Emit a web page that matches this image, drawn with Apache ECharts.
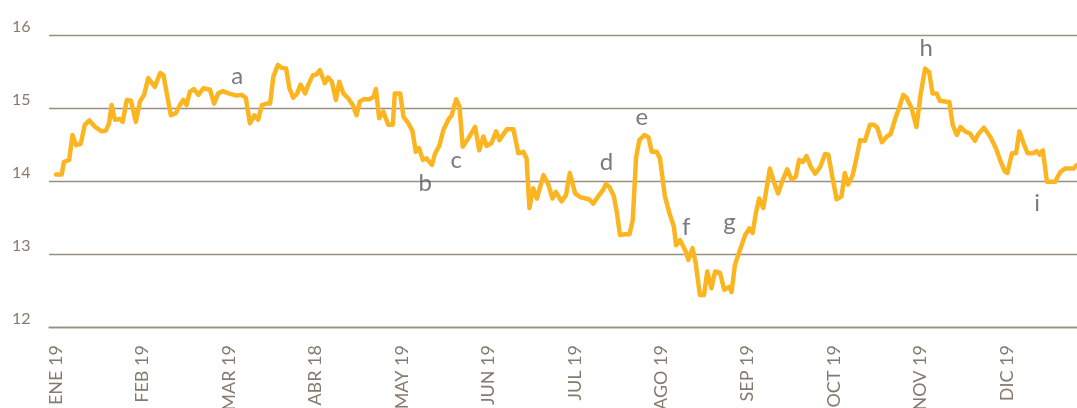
<!DOCTYPE html>
<html>
<head>
<meta charset="utf-8">
<script src="https://cdn.jsdelivr.net/npm/echarts@6/dist/echarts.min.js"></script>
<style>
  html, body { margin: 0; padding: 0; background: #ffffff; }
  #chart { width: 1077px; height: 408px; }
</style>
</head>
<body>
<div id="chart"></div>
<script>
// Month labels, one every 21 trading sessions
const monthLabels = ['ENE 19', 'FEB 19', 'MAR 19', 'ABR 18', 'MAY 19', 'JUN 19',
                     'JUL 19', 'AGO 19', 'SEP 19', 'OCT 19', 'NOV 19', 'DIC 19'];
const monthStep = 21;

// Session index (trading day) of each vertex of the price line
const session = [
  0, 1.4, 1.9, 3.2, 4.0, 4.9, 6.0, 7.0, 8.1, 9.5, 11.1, 12.1, 12.9, 13.5, 14.3, 15.5, 16.2, 17.2, 18.2, 19.4,
  20.4, 21.4, 22.4, 24.0, 25.3, 26.1, 26.9, 27.9, 29.1, 30.1, 30.9, 31.7, 32.5, 33.5, 34.6, 35.8, 37.4, 38.4, 39.4, 40.5,
  41.9, 43.9, 45.1, 46.1, 47.1, 48.2, 49.1, 50.0, 51.2, 52.0, 52.8, 53.9, 54.8, 55.9, 56.7, 57.6, 58.6, 59.4, 60.5, 61.3,
  62.4, 63.3, 64.1, 65.3, 66.1, 67.0, 68.0, 68.8, 69.8, 71.0, 72.1, 73.0, 73.8, 74.8, 76.1, 77.1, 77.7, 78.5, 79.5, 80.7,
  81.8, 82.3, 83.6, 84.4, 85.6, 86.6, 87.4, 88.2, 89.1, 90.0, 91.3, 92.1, 93.1, 94.1, 95.3, 96.1, 97.2, 98.0, 98.8, 100.1,
  101.8, 102.8, 103.8, 104.6, 105.8, 106.9, 107.7, 109.5, 111.1, 112.3, 113.5, 114.3, 115.0, 115.9, 116.8, 118.4, 119.6, 120.6, 121.4, 122.8,
  123.9, 124.8, 126.1, 127.3, 128.7, 129.5, 130.5, 131.7, 132.8, 133.6, 134.4, 135.5, 136.2, 137.0, 138.2, 139.3, 140.1, 140.9, 141.7, 142.9,
  143.9, 144.7, 145.9, 146.7, 147.9, 149.0, 150.1, 150.6, 151.6, 153.0, 153.6, 154.6, 155.4, 156.4, 157.4, 158.2, 159.2, 160.1, 161.3, 162.3,
  163.5, 164.1, 164.9, 166.1, 167.4, 168.4, 169.2, 170.0, 170.8, 171.8, 173.4, 174.6, 175.4, 176.5, 177.6, 178.7, 179.7, 180.5, 181.4, 182.3,
  183.3, 184.4, 185.6, 186.8, 187.6, 188.4, 189.6, 190.8, 191.6, 192.4, 193.5, 194.5, 195.3, 196.5, 197.7, 198.7, 199.5, 200.6, 201.8, 202.7,
  204.0, 204.8, 205.8, 206.6, 207.8, 209.0, 210.0, 211.1, 212.1, 212.9, 213.9, 214.7, 215.9, 217.0, 217.8, 218.8, 219.7, 220.8, 222.0, 223.2,
  224.0, 225.4, 226.9, 228.3, 229.5, 230.5, 231.1, 232.2, 233.2, 234.0, 235.0, 236.0, 237.3, 238.2, 238.9, 239.7, 240.7, 241.9, 242.7, 243.9,
  245.1, 246.3, 247.2, 248.0
];

// Price level at each vertex
const price = [
  14.09, 14.09, 14.26, 14.29, 14.63, 14.49, 14.51, 14.77, 14.83, 14.74, 14.68, 14.69, 14.79, 15.04, 14.84, 14.85, 14.81, 15.11, 15.10, 14.81,
  15.09, 15.18, 15.41, 15.29, 15.48, 15.45, 15.20, 14.90, 14.93, 15.04, 15.11, 15.04, 15.22, 15.26, 15.18, 15.27, 15.25, 15.06, 15.20, 15.23,
  15.20, 15.17, 15.18, 15.14, 14.79, 14.90, 14.84, 15.04, 15.06, 15.06, 15.43, 15.59, 15.55, 15.54, 15.27, 15.14, 15.20, 15.32, 15.20, 15.32,
  15.45, 15.46, 15.52, 15.34, 15.42, 15.36, 15.11, 15.36, 15.20, 15.13, 15.04, 14.90, 15.09, 15.12, 15.12, 15.15, 15.26, 14.86, 14.95, 14.77,
  14.77, 15.20, 15.20, 14.88, 14.79, 14.68, 14.40, 14.45, 14.29, 14.31, 14.22, 14.38, 14.48, 14.70, 14.84, 14.90, 15.12, 15.02, 14.47, 14.58,
  14.74, 14.42, 14.61, 14.48, 14.52, 14.68, 14.56, 14.71, 14.71, 14.38, 14.40, 14.31, 13.63, 13.90, 13.76, 14.08, 13.95, 13.76, 13.85, 13.72,
  13.81, 14.11, 13.83, 13.78, 13.76, 13.75, 13.69, 13.79, 13.87, 13.96, 13.92, 13.79, 13.58, 13.26, 13.27, 13.27, 13.47, 14.32, 14.56, 14.63,
  14.60, 14.40, 14.40, 14.31, 13.79, 13.56, 13.37, 13.12, 13.19, 13.03, 12.92, 13.08, 12.87, 12.44, 12.44, 12.76, 12.53, 12.76, 12.74, 12.51,
  12.55, 12.48, 12.85, 13.05, 13.26, 13.35, 13.29, 13.56, 13.76, 13.63, 14.17, 13.95, 13.83, 14.01, 14.16, 14.02, 14.06, 14.29, 14.26, 14.34,
  14.20, 14.10, 14.19, 14.37, 14.36, 14.11, 13.75, 13.79, 14.11, 13.95, 14.08, 14.33, 14.56, 14.55, 14.77, 14.77, 14.73, 14.53, 14.61, 14.64,
  14.88, 15.00, 15.18, 15.14, 15.00, 14.74, 15.18, 15.54, 15.49, 15.20, 15.20, 15.10, 15.09, 15.08, 14.77, 14.63, 14.74, 14.68, 14.65, 14.55,
  14.64, 14.73, 14.61, 14.45, 14.26, 14.13, 14.11, 14.38, 14.38, 14.68, 14.52, 14.38, 14.38, 14.41, 14.36, 14.42, 13.99, 13.99, 13.99, 14.12,
  14.17, 14.17, 14.17, 14.22
];

// Letter call-outs placed next to notable moves
const noteLetters = ['a', 'b', 'c', 'd', 'e', 'f', 'g', 'h', 'i'];
const noteSession = [44.0, 89.7, 97.2, 133.7, 142.3, 153.1, 163.6, 211.4, 238.3];
const noteLevel   = [15.43, 13.97, 14.29, 14.25, 14.87, 13.37, 13.43, 15.82, 13.69];

// Y axis ticks
const yMin = 12, yMax = 16, yStep = 1;

const lineData = session.map((s, i) => [s, price[i]]);
const noteData = noteLetters.map((t, i) => [noteSession[i], noteLevel[i], t]);

const chart = echarts.init(document.getElementById('chart'), null, { renderer: 'canvas' });
const axisColor = '#988e84';
const textColor = '#857a6e';

chart.setOption({
  animation: false,
  backgroundColor: '#ffffff',
  grid: { left: 49, right: 0, top: 35, bottom: 81, containLabel: false, outerBoundsMode: 'none' },
  xAxis: {
    type: 'value',
    min: -1.7,
    max: 248,
    axisLine: { show: true, lineStyle: { color: axisColor, width: 1.3 } },
    axisTick: { show: false },
    splitLine: { show: false },
    axisLabel: {
      customValues: monthLabels.map((_, i) => i * monthStep),
      formatter: v => monthLabels[Math.round(v / monthStep)] || '',
      rotate: 90,
      margin: 18,
      color: textColor,
      fontFamily: 'Lato',
      fontSize: 18
    }
  },
  yAxis: {
    type: 'value',
    min: yMin,
    max: yMax,
    interval: yStep,
    axisLine: { show: false },
    axisTick: { show: false },
    splitLine: { show: true, lineStyle: { color: axisColor, width: 1.3 } },
    axisLabel: {
      align: 'left',
      verticalAlign: 'bottom',
      lineHeight: 16,
      margin: 37,
      color: textColor,
      fontFamily: 'Lato',
      fontSize: 16
    }
  },
  series: [
    {
      type: 'line',
      data: lineData,
      symbol: 'none',
      smooth: false,
      lineStyle: { color: '#fbb521', width: 4.5, join: 'round', cap: 'round' }
    },
    {
      type: 'scatter',
      data: noteData,
      symbolSize: 0,
      label: {
        show: true,
        position: 'inside',
        formatter: p => p.value[2],
        color: '#595959',
        fontFamily: 'Lato',
        fontSize: 24,
        align: 'center',
        verticalAlign: 'middle'
      }
    }
  ]
});
</script>
</body>
</html>
